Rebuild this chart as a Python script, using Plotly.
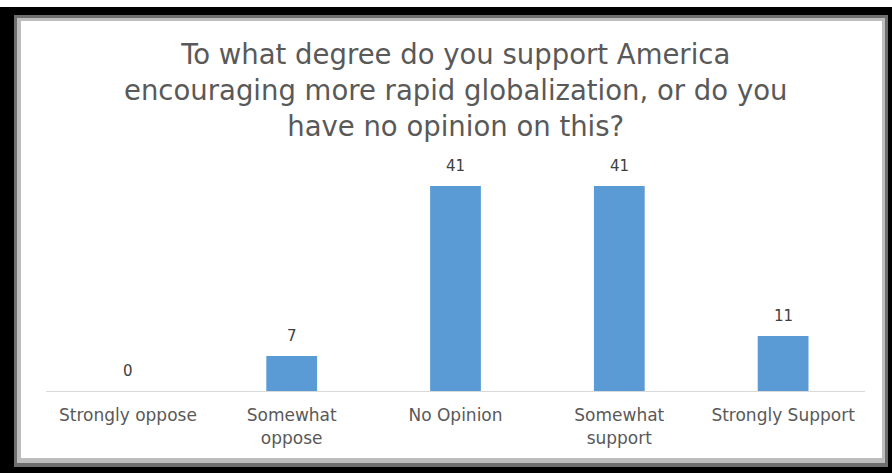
import plotly.graph_objects as go

categories = ["Strongly oppose", "Somewhat<br>oppose", "No Opinion", "Somewhat<br>support", "Strongly Support"]
values = [0, 7, 41, 41, 11]
title_text = ("To what degree do you support America<br>"
              "encouraging more rapid globalization, or do you<br>"
              "have no opinion on this?")

FONT = "DejaVu Sans"
W, H = 892, 473
L, R, T, B = 46, 27, 171, 82
PW, PH = W - L - R, H - T - B


def px_x(x):
    return (x - L) / PW


def px_y(y):
    return (H - B - y) / PH


def frame(x0, y0, x1, y1, color):
    return dict(type="rect", xref="paper", yref="paper", layer="below",
                x0=px_x(x0), x1=px_x(x1), y0=px_y(y1), y1=px_y(y0),
                fillcolor=color, line=dict(width=0))


fig = go.Figure(go.Bar(
    x=categories, y=values,
    marker=dict(color="#5b9bd5", line=dict(width=0)),
    width=0.31,
))

# value labels above each bar
labels = [dict(x=c, y=v, text=str(v), xref="x", yref="y",
               xanchor="center", yanchor="bottom", yshift=9, showarrow=False,
               font=dict(family=FONT, size=15, color="#404040"))
          for c, v in zip(categories, values)]

title = dict(
    text=title_text, xref="paper", yref="paper",
    x=px_x(455), y=px_y(36), xanchor="center", yanchor="top",
    showarrow=False, align="center",
    font=dict(family=FONT, size=27.5, color="#595959"),
)

fig.update_layout(
    width=W, height=H,
    margin=dict(l=L, r=R, t=T, b=B),
    paper_bgcolor="white", plot_bgcolor="rgba(0,0,0,0)",
    showlegend=False,
    shapes=[
        frame(0, 7, 892, 473, "#000000"),
        frame(14, 15, 888, 467, "#6e6e6e"),
        frame(17, 18, 885, 463, "#bdbdbd"),
        frame(21, 21, 882, 458, "#ffffff"),
    ],
    annotations=[title] + labels,
    xaxis=dict(
        showline=True, linecolor="#d9d9d9", linewidth=1,
        ticks="", showgrid=False, ticklabelstandoff=9,
        tickfont=dict(family=FONT, size=17, color="#595959"),
    ),
    yaxis=dict(range=[0, 44], visible=False, showgrid=False, zeroline=False),
)

fig.write_html("out.html")
